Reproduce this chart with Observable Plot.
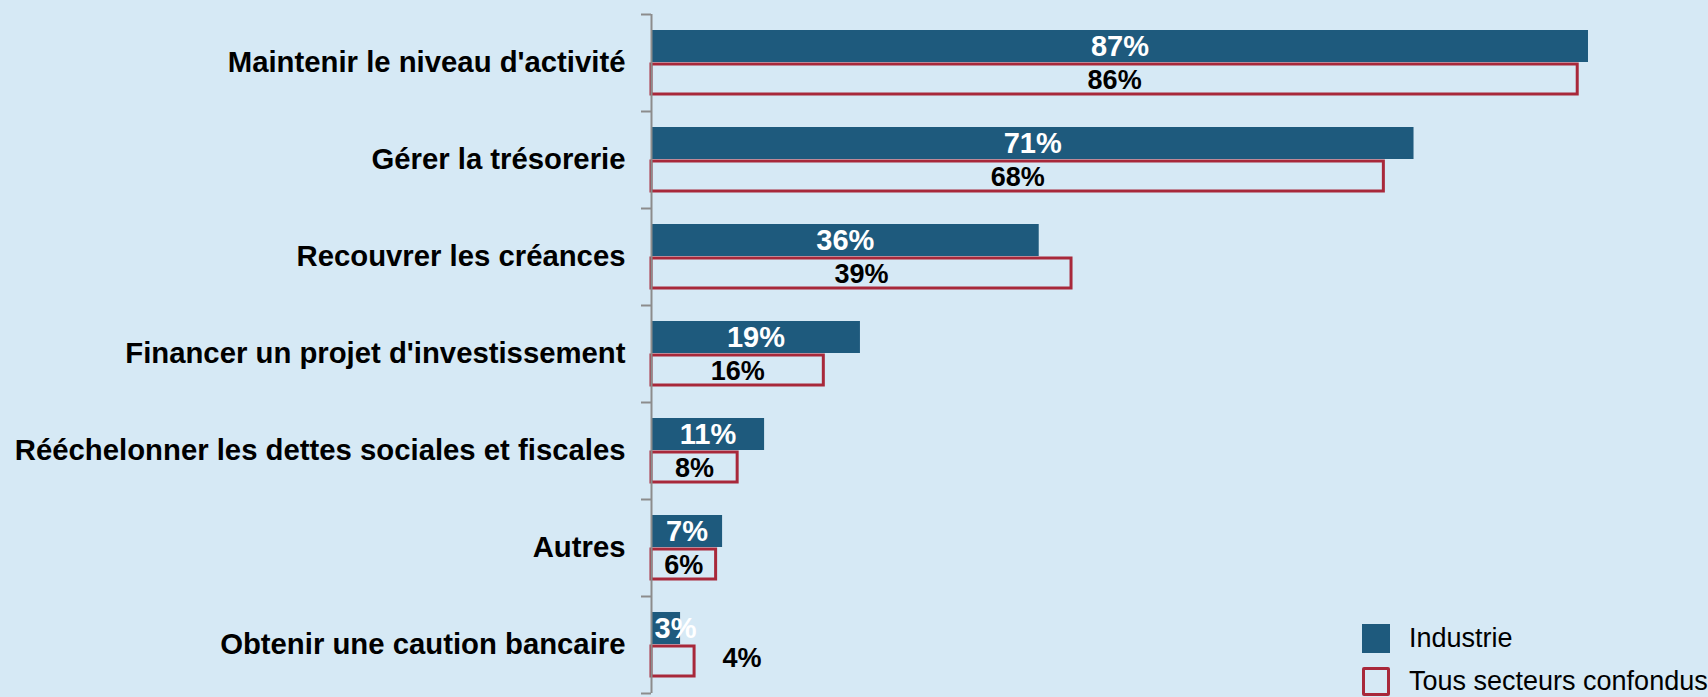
<!DOCTYPE html>
<html><head><meta charset="utf-8">
<script src="https://cdn.jsdelivr.net/npm/d3@7"></script>
<script src="https://cdn.jsdelivr.net/npm/@observablehq/plot@0.6"></script>
<style>
html,body{margin:0;padding:0;background:#D6E9F5;overflow:hidden;width:1708px;height:697px;}
#chart{position:relative;width:1708px;height:697px;}
#legend{position:absolute;left:1362px;top:624px;font-family:"Liberation Sans",Arial,sans-serif;font-size:27px;color:#000;}
.item{display:flex;align-items:center;height:29px;margin-bottom:14px;}
.sw{width:28px;height:29px;margin-right:19px;box-sizing:border-box;flex:none}
</style></head>
<body><div id="chart"><div id="legend"></div></div>
<script>
const categories = [
  "Maintenir le niveau d'activité",
  "Gérer la trésorerie",
  "Recouvrer les créances",
  "Financer un projet d'investissement",
  "Rééchelonner les dettes sociales et fiscales",
  "Autres",
  "Obtenir une caution bancaire"
];
// bar lengths
const industrie = [87, 70.8, 36, 19.4, 10.5, 6.6, 2.7];
const tousSecteurs = [86, 68, 39, 16, 8, 6, 4];
// printed data labels
const industrieLabels = ["87%", "71%", "36%", "19%", "11%", "7%", "3%"];
const tousLabels = ["86%", "68%", "39%", "16%", "8%", "6%", "4%"];
const seriesNames = ["Industrie", "Tous secteurs confondus"];

const BLUE = "#1E5A7D", RED = "#A8283A", GREY = "#8c8c8c";
const rows = categories.map((c, i) => ({
  category: c, industrie: industrie[i], tous: tousSecteurs[i],
  labI: industrieLabels[i], labT: tousLabels[i]
}));
const half = (693 - 14) / categories.length / 2;
const labelStyle = {fontWeight: "bold", lineAnchor: "middle"};

const chart = Plot.plot({
  width: 1708,
  height: 697,
  marginTop: 14,
  marginBottom: 4,
  marginLeft: 651,
  marginRight: 0,
  style: {background: "#D6E9F5", fontFamily: "'Liberation Sans', Arial, sans-serif", fontSize: "29.3px", fontWeight: "bold", color: "black", overflow: "visible"},
  x: {axis: null, domain: [0, 100], range: [651, 1728]},
  y: {domain: categories, padding: 0, label: null, tickSize: 0, tickPadding: 26},
  marks: [
    Plot.barX(rows, {y: "category", x1: 0, x2: "industrie", fill: BLUE, insetTop: 16, insetBottom: 49}),
    Plot.barX(rows, {y: "category", x1: 0, x2: "tous", fill: "none", stroke: RED, strokeWidth: 3, insetTop: 50, insetBottom: 17}),
    Plot.ruleX([0], {stroke: GREY, strokeWidth: 2}),
    Plot.ruleY(categories, {y: d => d, x1: 0, x2: 0, insetLeft: -10, dy: -half, stroke: GREY, strokeWidth: 2}),
    Plot.ruleY([categories[categories.length - 1]], {y: d => d, x1: 0, x2: 0, insetLeft: -10, dy: half, stroke: GREY, strokeWidth: 2}),
    Plot.text(rows.filter(d => d.industrie >= 5), {...labelStyle, y: "category", x: d => d.industrie / 2, text: "labI", fill: "white", fontSize: 29, dy: -16}),
    Plot.text(rows.filter(d => d.industrie < 5), {...labelStyle, y: "category", x1: 0, x: 0, text: "labI", fill: "white", fontSize: 29, dx: 3, dy: -16, textAnchor: "start"}),
    Plot.text(rows.filter(d => d.tous >= 5), {...labelStyle, y: "category", x: d => d.tous / 2, text: "labT", fill: "black", fontSize: 27, dy: 17}),
    Plot.text(rows.filter(d => d.tous < 5), {...labelStyle, y: "category", x: "tous", text: "labT", fill: "black", fontSize: 27, dx: 28, dy: 13, textAnchor: "start"})
  ]
});
document.getElementById("chart").prepend(chart);

const legend = document.getElementById("legend");
const swStyles = [`background:${BLUE}`, `border:3px solid ${RED};border-radius:2px`];
seriesNames.forEach((name, i) => {
  const item = document.createElement("div");
  item.className = "item";
  item.innerHTML = `<div class="sw" style="${swStyles[i]}"></div><span>${name}</span>`;
  legend.appendChild(item);
});
</script>
</body></html>
